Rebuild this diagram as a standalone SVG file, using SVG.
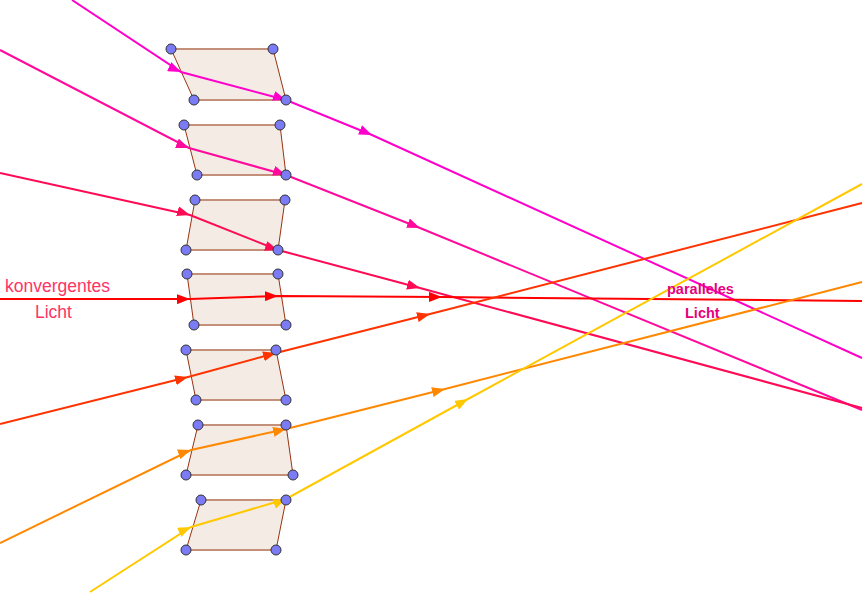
<svg xmlns="http://www.w3.org/2000/svg" width="863" height="594" viewBox="0 0 863 594">
<style>
.pf{fill:#f4ebe5;stroke:none}
.h{stroke:#c4907a;stroke-width:2}
.s{stroke:#993311;stroke-width:1}
.p{fill:#7b7bf5;stroke:#333;stroke-width:1}
.r{fill:none;stroke-width:2}
text{font-family:"Liberation Sans",Arial,sans-serif}
</style>
<defs>
<marker id="a" viewBox="0 0 10 10" refX="10" refY="5" markerWidth="13" markerHeight="10" markerUnits="userSpaceOnUse" orient="auto" preserveAspectRatio="none"><path d="M0,0 L10,5 L0,10 z" fill="context-stroke"/></marker>
</defs>
<g id="prisms">
<g id="prism1"><polygon class="pf" points="171,49 273,49 286,100 194,100"/><line class="h" x1="171" y1="49" x2="273" y2="49"/><line class="h" x1="194" y1="100" x2="286" y2="100"/><line class="s" x1="171" y1="49" x2="194" y2="100"/><line class="s" x1="273" y1="49" x2="286" y2="100"/></g>
<g id="prism2"><polygon class="pf" points="184,125 280,125 286,175 197,175"/><line class="h" x1="184" y1="125" x2="280" y2="125"/><line class="h" x1="197" y1="175" x2="286" y2="175"/><line class="s" x1="184" y1="125" x2="197" y2="175"/><line class="s" x1="280" y1="125" x2="286" y2="175"/></g>
<g id="prism3"><polygon class="pf" points="195,200 285,200 278,250 186,250"/><line class="h" x1="195" y1="200" x2="285" y2="200"/><line class="h" x1="186" y1="250" x2="278" y2="250"/><line class="s" x1="195" y1="200" x2="186" y2="250"/><line class="s" x1="285" y1="200" x2="278" y2="250"/></g>
<g id="prism4"><polygon class="pf" points="187,274 278,274 286,325 194,325"/><line class="h" x1="187" y1="274" x2="278" y2="274"/><line class="h" x1="194" y1="325" x2="286" y2="325"/><line class="s" x1="187" y1="274" x2="194" y2="325"/><line class="s" x1="278" y1="274" x2="286" y2="325"/></g>
<g id="prism5"><polygon class="pf" points="186,350 276,350 286,400 196,400"/><line class="h" x1="186" y1="350" x2="276" y2="350"/><line class="h" x1="196" y1="400" x2="286" y2="400"/><line class="s" x1="186" y1="350" x2="196" y2="400"/><line class="s" x1="276" y1="350" x2="286" y2="400"/></g>
<g id="prism6"><polygon class="pf" points="198,425 286,425 293,475 186,475"/><line class="h" x1="198" y1="425" x2="286" y2="425"/><line class="h" x1="186" y1="475" x2="293" y2="475"/><line class="s" x1="198" y1="425" x2="186" y2="475"/><line class="s" x1="286" y1="425" x2="293" y2="475"/></g>
<g id="prism7"><polygon class="pf" points="201,500 286,500 276,550 186,550"/><line class="h" x1="201" y1="500" x2="286" y2="500"/><line class="h" x1="186" y1="550" x2="276" y2="550"/><line class="s" x1="201" y1="500" x2="186" y2="550"/><line class="s" x1="286" y1="500" x2="276" y2="550"/></g>
</g>
<g id="connectors">
<polyline class="r" stroke="#ff00cc" marker-mid="url(#a)" points="72,0 181,72 286,100 372,135 862,358"/>
<polyline class="r" stroke="#ff0a9c" marker-mid="url(#a)" points="0,50 189,148 286,175 420,228 862,410"/>
<polyline class="r" stroke="#ff0a55" marker-mid="url(#a)" points="0,173 190,215 278,250 420,288 862,408"/>
<polyline class="r" stroke="#ff0000" marker-mid="url(#a)" points="0,299 190,299 278,296 442,297 862,301"/>
<polyline class="r" stroke="#ff3300" marker-mid="url(#a)" points="0,424 188,377 276,353 430,314 862,203"/>
<polyline class="r" stroke="#ff8800" marker-mid="url(#a)" points="0,543 191,450 286,429 445,389 862,282"/>
<polyline class="r" stroke="#ffc800" marker-mid="url(#a)" points="90,592 191,527 286,499 468,399 862,184"/>
</g>
<g id="points">
<circle class="p" cx="171" cy="49" r="5"/><circle class="p" cx="273" cy="49" r="5"/><circle class="p" cx="286" cy="100" r="5"/><circle class="p" cx="194" cy="100" r="5"/>
<circle class="p" cx="184" cy="125" r="5"/><circle class="p" cx="280" cy="125" r="5"/><circle class="p" cx="286" cy="175" r="5"/><circle class="p" cx="197" cy="175" r="5"/>
<circle class="p" cx="195" cy="200" r="5"/><circle class="p" cx="285" cy="200" r="5"/><circle class="p" cx="278" cy="250" r="5"/><circle class="p" cx="186" cy="250" r="5"/>
<circle class="p" cx="187" cy="274" r="5"/><circle class="p" cx="278" cy="274" r="5"/><circle class="p" cx="286" cy="325" r="5"/><circle class="p" cx="194" cy="325" r="5"/>
<circle class="p" cx="186" cy="350" r="5"/><circle class="p" cx="276" cy="350" r="5"/><circle class="p" cx="286" cy="400" r="5"/><circle class="p" cx="196" cy="400" r="5"/>
<circle class="p" cx="198" cy="425" r="5"/><circle class="p" cx="286" cy="425" r="5"/><circle class="p" cx="293" cy="475" r="5"/><circle class="p" cx="186" cy="475" r="5"/>
<circle class="p" cx="201" cy="500" r="5"/><circle class="p" cx="286" cy="500" r="5"/><circle class="p" cx="276" cy="550" r="5"/><circle class="p" cx="186" cy="550" r="5"/>
</g>
<g id="labels">
<text x="5" y="292" font-size="17.5" fill="#ff3366">konvergentes</text>
<text x="35" y="318" font-size="17.5" fill="#ff3366">Licht</text>
<text x="667" y="294" font-size="14.5" font-weight="bold" fill="#e6007e">paralleles</text>
<text x="685" y="318" font-size="14.5" font-weight="bold" fill="#e6007e">Licht</text>
</g>
</svg>
